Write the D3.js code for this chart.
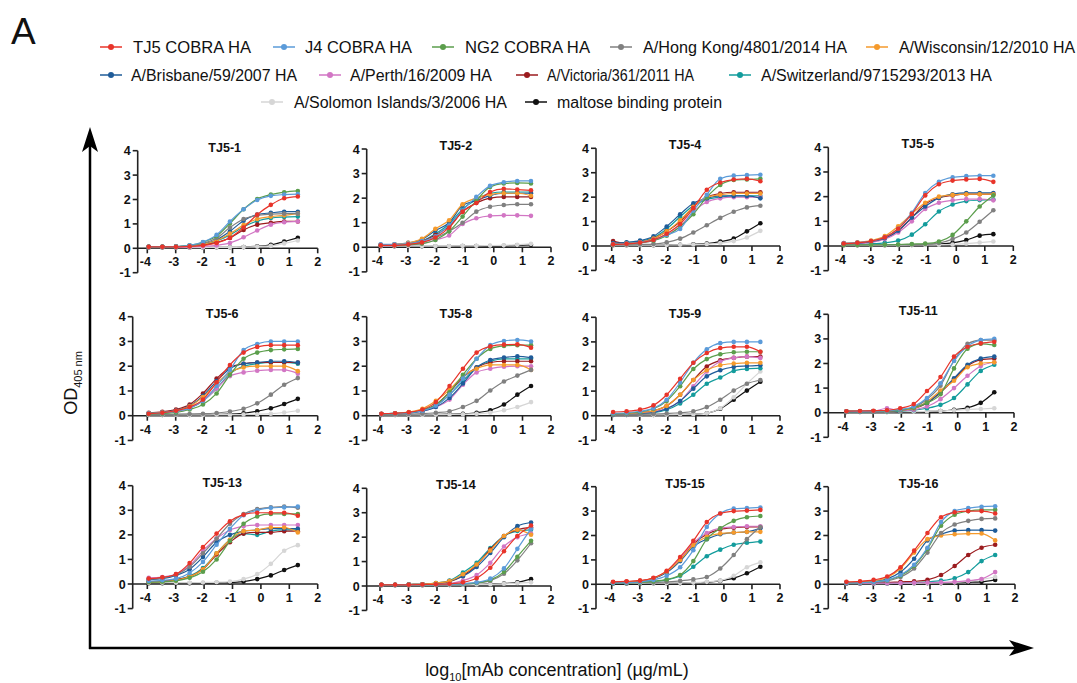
<!DOCTYPE html>
<html>
<head>
<meta charset="utf-8">
<script src="https://cdn.jsdelivr.net/npm/d3@7"></script>
<style>
  body { margin: 0; background: #fff; }
  svg { font-family: "Liberation Sans", Arial, sans-serif; }
</style>
</head>
<body>
<svg id="chart" width="1077" height="683"></svg>
<script>
// log10 of the mAb dilution series (µg/mL)
var X_LOG = [-3.95, -3.47, -2.99, -2.51, -2.04, -1.56, -1.09, -0.61, -0.13, 0.35, 0.82, 1.30];
var X_TICKS = [-4, -3, -2, -1, 0, 1, 2];
var Y_TICKS = [-1, 0, 1, 2, 3, 4];

var SERIES = ["TJ5 COBRA HA", "J4 COBRA HA", "NG2 COBRA HA", "A/Hong Kong/4801/2014 HA",
  "A/Wisconsin/12/2010 HA", "A/Brisbane/59/2007 HA", "A/Perth/16/2009 HA",
  "A/Victoria/361/2011 HA", "A/Switzerland/9715293/2013 HA",
  "A/Solomon Islands/3/2006 HA", "maltose binding protein"];

var PANEL_TITLES = ["TJ5-1", "TJ5-2", "TJ5-4", "TJ5-5", "TJ5-6", "TJ5-8",
  "TJ5-9", "TJ5-11", "TJ5-13", "TJ5-14", "TJ5-15", "TJ5-16"];

// OD405 per series (same order as SERIES), one row per antigen
var TJ5_1 = [
  [0.06,0.06,0.06,0.08,0.12,0.22,0.43,0.85,1.38,1.78,2.05,2.12],
  [0.06,0.06,0.07,0.12,0.26,0.55,1.10,1.60,1.98,2.15,2.20,2.22],
  [0.06,0.06,0.07,0.12,0.25,0.50,1.02,1.60,2.02,2.20,2.30,2.35],
  [0.06,0.06,0.07,0.10,0.20,0.42,0.85,1.20,1.35,1.40,1.42,1.42],
  [0.06,0.06,0.07,0.09,0.16,0.32,0.60,0.95,1.20,1.30,1.35,1.42],
  [0.06,0.06,0.07,0.09,0.17,0.35,0.70,1.13,1.38,1.45,1.50,1.50],
  [0.05,0.05,0.05,0.06,0.08,0.12,0.22,0.45,0.73,0.97,1.07,1.10],
  [0.06,0.06,0.06,0.08,0.13,0.24,0.42,0.75,0.97,1.05,1.10,1.10],
  [0.06,0.06,0.07,0.09,0.15,0.30,0.55,0.88,1.12,1.24,1.28,1.30],
  [0.03,0.03,0.03,0.03,0.03,0.04,0.04,0.05,0.07,0.10,0.20,0.32],
  [0.03,0.03,0.03,0.03,0.03,0.04,0.04,0.05,0.08,0.14,0.28,0.43]
];
var TJ5_2 = [
  [0.08,0.08,0.12,0.20,0.40,0.80,1.45,1.80,2.25,2.38,2.35,2.32],
  [0.12,0.12,0.15,0.25,0.45,0.90,1.50,2.05,2.50,2.65,2.70,2.70],
  [0.08,0.08,0.10,0.15,0.30,0.65,1.25,1.90,2.45,2.60,2.62,2.60],
  [0.08,0.09,0.12,0.20,0.38,0.65,1.00,1.45,1.65,1.72,1.75,1.75],
  [0.10,0.12,0.18,0.35,0.75,1.10,1.75,2.00,2.15,2.20,2.20,2.10],
  [0.10,0.12,0.18,0.32,0.68,1.00,1.70,1.90,2.10,2.20,2.20,2.20],
  [0.06,0.07,0.09,0.15,0.30,0.48,0.95,1.18,1.28,1.30,1.30,1.28],
  [0.08,0.10,0.14,0.25,0.50,0.85,1.45,1.80,2.00,2.05,2.05,2.05],
  [0.08,0.10,0.14,0.25,0.55,0.95,1.55,1.95,2.20,2.25,2.25,2.25],
  [0.05,0.05,0.05,0.05,0.05,0.05,0.06,0.06,0.07,0.08,0.10,0.14],
  [0.04,0.04,0.04,0.04,0.04,0.04,0.05,0.05,0.05,0.06,0.08,0.10]
];
var TJ5_4 = [
  [0.07,0.09,0.14,0.25,0.50,0.90,1.55,2.30,2.60,2.72,2.75,2.65],
  [0.08,0.10,0.15,0.25,0.45,0.70,1.45,2.10,2.75,2.88,2.90,2.92],
  [0.07,0.09,0.13,0.22,0.42,0.80,1.30,2.00,2.50,2.70,2.72,2.75],
  [0.05,0.05,0.06,0.08,0.15,0.30,0.55,0.85,1.15,1.40,1.58,1.65],
  [0.08,0.10,0.15,0.30,0.60,1.05,1.60,2.00,2.10,2.15,2.15,2.15],
  [0.12,0.15,0.22,0.40,0.80,1.30,1.75,1.95,2.05,2.05,2.05,1.95],
  [0.07,0.09,0.13,0.22,0.45,0.80,1.40,1.80,1.95,2.00,2.00,2.00],
  [0.20,0.10,0.15,0.30,0.60,1.00,1.60,2.00,2.15,2.20,2.20,2.20],
  [0.10,0.13,0.20,0.35,0.70,1.20,1.65,1.90,2.00,2.05,2.05,2.05],
  [0.03,0.03,0.03,0.03,0.04,0.05,0.06,0.08,0.12,0.20,0.35,0.62],
  [0.03,0.03,0.03,0.03,0.04,0.05,0.07,0.10,0.18,0.30,0.60,0.93]
];
var TJ5_5 = [
  [0.10,0.13,0.20,0.35,0.70,1.30,2.05,2.50,2.65,2.70,2.72,2.60],
  [0.12,0.14,0.20,0.35,0.70,1.35,2.15,2.60,2.78,2.83,2.85,2.85],
  [0.04,0.04,0.05,0.05,0.06,0.08,0.10,0.18,0.45,1.00,1.60,2.05],
  [0.04,0.04,0.04,0.05,0.05,0.06,0.08,0.12,0.28,0.55,0.98,1.45],
  [0.12,0.15,0.22,0.40,0.80,1.30,1.75,2.00,2.07,2.10,2.10,2.10],
  [0.10,0.12,0.18,0.32,0.62,1.15,1.60,1.95,2.10,2.15,2.15,2.15],
  [0.08,0.10,0.15,0.28,0.55,1.00,1.50,1.75,1.85,1.90,1.90,1.85],
  [0.10,0.12,0.18,0.32,0.62,1.15,1.70,1.95,2.05,2.10,2.10,2.10],
  [0.06,0.07,0.09,0.13,0.22,0.46,0.88,1.40,1.68,1.82,1.86,1.88],
  [0.03,0.03,0.03,0.03,0.03,0.04,0.04,0.05,0.06,0.10,0.14,0.18],
  [0.03,0.03,0.03,0.03,0.04,0.04,0.05,0.08,0.13,0.24,0.42,0.48]
];
var TJ5_6 = [
  [0.08,0.12,0.20,0.35,0.65,1.35,2.05,2.55,2.78,2.85,2.85,2.85],
  [0.10,0.12,0.18,0.30,0.60,1.20,1.85,2.65,2.90,3.00,3.00,3.00],
  [0.07,0.09,0.13,0.25,0.45,0.90,1.65,2.30,2.55,2.65,2.68,2.70],
  [0.05,0.05,0.06,0.07,0.08,0.11,0.17,0.28,0.50,0.85,1.25,1.52],
  [0.10,0.13,0.20,0.38,0.75,1.30,1.75,1.95,2.00,2.00,2.00,1.80],
  [0.10,0.14,0.22,0.40,0.80,1.40,1.90,2.10,2.15,2.20,2.20,2.15],
  [0.08,0.10,0.15,0.30,0.60,1.10,1.60,1.75,1.82,1.85,1.85,1.70],
  [0.12,0.16,0.25,0.45,0.90,1.50,1.95,2.10,2.15,2.15,2.15,2.15],
  [0.08,0.10,0.16,0.30,0.60,1.10,1.70,2.00,2.10,2.15,2.15,2.10],
  [0.03,0.03,0.03,0.03,0.03,0.04,0.04,0.05,0.06,0.08,0.13,0.20],
  [0.03,0.03,0.03,0.03,0.04,0.05,0.06,0.10,0.18,0.30,0.47,0.68]
];
var TJ5_8 = [
  [0.08,0.10,0.14,0.25,0.55,1.20,1.90,2.55,2.80,2.87,2.88,2.75],
  [0.08,0.09,0.12,0.20,0.40,0.85,1.50,2.30,2.85,3.02,3.06,3.00],
  [0.07,0.09,0.12,0.22,0.45,0.95,1.65,2.30,2.70,2.82,2.85,2.85],
  [0.05,0.05,0.06,0.08,0.12,0.18,0.35,0.60,1.02,1.38,1.62,1.85],
  [0.08,0.10,0.15,0.28,0.60,1.05,1.60,1.90,2.05,2.05,2.05,1.85],
  [0.06,0.08,0.11,0.18,0.35,0.72,1.30,1.95,2.25,2.35,2.40,2.35],
  [0.06,0.08,0.11,0.18,0.35,0.65,1.25,1.75,1.90,1.98,2.00,2.00],
  [0.07,0.09,0.13,0.22,0.45,0.95,1.55,1.95,2.15,2.20,2.20,2.20],
  [0.07,0.09,0.12,0.20,0.40,0.85,1.40,1.95,2.20,2.30,2.30,2.30],
  [0.03,0.03,0.03,0.03,0.04,0.05,0.06,0.08,0.12,0.22,0.35,0.55],
  [0.03,0.03,0.03,0.04,0.05,0.06,0.08,0.12,0.22,0.45,0.85,1.20]
];
var TJ5_9 = [
  [0.15,0.18,0.25,0.42,0.85,1.50,2.15,2.55,2.75,2.80,2.80,2.60],
  [0.10,0.12,0.18,0.30,0.65,1.35,2.15,2.70,2.95,3.00,3.00,3.00],
  [0.08,0.10,0.15,0.28,0.60,1.20,1.90,2.30,2.50,2.58,2.60,2.60],
  [0.05,0.05,0.06,0.07,0.09,0.12,0.18,0.35,0.65,1.02,1.30,1.45],
  [0.07,0.08,0.12,0.20,0.40,0.85,1.45,1.85,2.05,2.12,2.15,2.15],
  [0.05,0.06,0.08,0.13,0.28,0.60,1.10,1.60,1.85,1.98,2.02,2.05],
  [0.06,0.07,0.10,0.16,0.30,0.60,1.20,1.80,2.20,2.35,2.40,2.35],
  [0.06,0.08,0.12,0.20,0.40,0.85,1.45,2.00,2.25,2.35,2.40,2.40],
  [0.05,0.06,0.08,0.12,0.24,0.50,0.85,1.30,1.55,1.82,1.90,1.93],
  [0.03,0.03,0.03,0.03,0.04,0.05,0.06,0.10,0.30,0.75,1.30,1.80],
  [0.03,0.03,0.03,0.03,0.04,0.05,0.06,0.10,0.28,0.65,1.02,1.38]
];
var TJ5_11 = [
  [0.06,0.07,0.08,0.10,0.18,0.35,0.88,1.45,2.28,2.68,2.82,2.88],
  [0.05,0.05,0.06,0.08,0.13,0.25,0.60,1.20,2.10,2.70,2.95,3.00],
  [0.05,0.05,0.06,0.07,0.11,0.20,0.40,0.75,1.80,2.60,2.80,2.75],
  [0.05,0.05,0.06,0.08,0.12,0.22,0.55,1.10,2.12,2.80,2.95,2.95],
  [0.05,0.05,0.06,0.07,0.10,0.18,0.45,0.90,1.30,1.85,2.00,2.05],
  [0.05,0.05,0.06,0.07,0.10,0.18,0.40,0.85,1.40,1.95,2.20,2.28],
  [0.05,0.05,0.06,0.18,0.08,0.12,0.25,0.55,1.00,1.50,1.90,2.05],
  [0.05,0.05,0.06,0.07,0.10,0.17,0.38,0.82,1.35,1.90,2.15,2.20],
  [0.04,0.04,0.05,0.05,0.06,0.10,0.18,0.32,0.60,1.15,1.70,1.95],
  [0.03,0.03,0.03,0.03,0.04,0.04,0.05,0.07,0.10,0.13,0.15,0.18],
  [0.03,0.03,0.03,0.03,0.04,0.04,0.05,0.07,0.12,0.20,0.40,0.83]
];
var TJ5_13 = [
  [0.22,0.27,0.40,0.85,1.50,2.05,2.55,2.82,2.90,2.90,2.90,2.78],
  [0.12,0.15,0.22,0.45,0.90,1.60,2.25,2.80,3.00,3.10,3.12,3.15],
  [0.08,0.09,0.13,0.25,0.50,1.00,1.75,2.45,2.75,2.85,2.85,2.85],
  [0.20,0.25,0.38,0.70,1.25,1.85,2.45,2.85,3.05,3.12,3.15,3.10],
  [0.08,0.10,0.15,0.30,0.60,1.25,1.80,2.15,2.20,2.30,2.30,2.10],
  [0.18,0.22,0.35,0.60,1.10,1.70,2.00,2.15,2.20,2.25,2.25,2.25],
  [0.25,0.28,0.40,0.75,1.35,1.85,2.20,2.35,2.40,2.40,2.40,2.40],
  [0.10,0.12,0.17,0.30,0.60,1.20,1.70,2.05,2.10,2.10,2.15,2.15],
  [0.10,0.12,0.18,0.32,0.65,1.25,1.80,2.05,2.00,2.15,2.20,2.20],
  [0.05,0.05,0.05,0.05,0.06,0.07,0.10,0.20,0.40,0.82,1.35,1.58],
  [0.03,0.03,0.03,0.03,0.04,0.05,0.06,0.10,0.20,0.35,0.57,0.77]
];
var TJ5_14 = [
  [0.05,0.05,0.05,0.06,0.07,0.09,0.15,0.32,0.75,1.42,2.05,2.48],
  [0.04,0.04,0.05,0.05,0.06,0.07,0.10,0.15,0.30,0.72,1.52,2.35],
  [0.04,0.04,0.05,0.05,0.06,0.07,0.09,0.13,0.25,0.58,1.20,1.85],
  [0.04,0.04,0.05,0.05,0.06,0.07,0.08,0.12,0.22,0.50,1.05,1.75],
  [0.05,0.05,0.06,0.07,0.12,0.20,0.48,0.88,1.45,2.05,2.30,2.10],
  [0.05,0.05,0.06,0.07,0.10,0.20,0.40,0.78,1.35,2.00,2.45,2.60],
  [0.05,0.05,0.05,0.06,0.07,0.10,0.22,0.45,0.95,1.62,2.00,2.15],
  [0.05,0.05,0.06,0.07,0.10,0.18,0.42,0.85,1.50,2.05,2.30,2.40],
  [0.05,0.05,0.06,0.07,0.12,0.22,0.55,0.95,1.55,2.05,2.25,2.30],
  [0.03,0.03,0.03,0.03,0.04,0.04,0.05,0.06,0.07,0.09,0.12,0.15],
  [0.03,0.03,0.03,0.03,0.04,0.04,0.05,0.06,0.08,0.10,0.15,0.28]
];
var TJ5_15 = [
  [0.10,0.12,0.15,0.27,0.55,1.12,1.78,2.55,2.90,3.00,3.02,3.05],
  [0.06,0.07,0.10,0.18,0.35,0.70,1.40,2.35,2.90,3.10,3.12,3.15],
  [0.05,0.06,0.08,0.12,0.20,0.38,0.95,1.85,2.30,2.60,2.75,2.80],
  [0.05,0.05,0.06,0.07,0.10,0.14,0.20,0.30,0.65,1.20,1.85,2.35],
  [0.08,0.10,0.14,0.25,0.52,1.00,1.60,1.95,2.08,2.12,2.15,2.15],
  [0.07,0.09,0.13,0.23,0.48,0.95,1.55,1.85,2.05,2.12,2.15,2.30],
  [0.08,0.10,0.14,0.25,0.52,1.05,1.70,2.10,2.30,2.35,2.38,2.38],
  [0.08,0.10,0.14,0.25,0.50,1.00,1.65,2.05,2.25,2.32,2.35,2.35],
  [0.05,0.06,0.08,0.12,0.18,0.35,0.72,1.15,1.42,1.62,1.70,1.75],
  [0.04,0.04,0.04,0.05,0.05,0.06,0.07,0.10,0.15,0.35,0.70,0.90],
  [0.03,0.03,0.03,0.04,0.04,0.05,0.06,0.08,0.14,0.25,0.45,0.72]
];
var TJ5_16 = [
  [0.10,0.12,0.18,0.32,0.70,1.38,2.10,2.75,2.95,3.00,3.00,2.90],
  [0.06,0.07,0.10,0.18,0.38,0.80,1.50,2.55,3.00,3.12,3.18,3.20],
  [0.06,0.07,0.10,0.18,0.35,0.75,1.45,2.40,2.85,3.00,3.05,3.05],
  [0.05,0.06,0.08,0.14,0.30,0.65,1.30,2.10,2.45,2.60,2.68,2.70],
  [0.08,0.10,0.14,0.28,0.65,1.30,1.85,2.00,2.05,2.08,2.08,1.80],
  [0.07,0.08,0.12,0.22,0.50,1.05,1.80,2.05,2.20,2.22,2.22,2.20],
  [0.04,0.04,0.04,0.05,0.05,0.06,0.07,0.08,0.10,0.15,0.22,0.50],
  [0.04,0.05,0.06,0.07,0.10,0.12,0.18,0.38,0.75,1.20,1.50,1.62],
  [0.04,0.04,0.05,0.05,0.06,0.07,0.10,0.15,0.25,0.50,0.95,1.20],
  [0.03,0.03,0.03,0.03,0.04,0.04,0.05,0.06,0.08,0.12,0.20,0.30],
  [0.03,0.03,0.03,0.03,0.04,0.04,0.05,0.05,0.06,0.08,0.10,0.18]
];

var PANEL_DATA = [TJ5_1, TJ5_2, TJ5_4, TJ5_5, TJ5_6, TJ5_8,
  TJ5_9, TJ5_11, TJ5_13, TJ5_14, TJ5_15, TJ5_16];

var COLORS = ["#e8342a", "#5b9bd9", "#5b9e4c", "#808080", "#f59a2c", "#1f5c99",
  "#d276c4", "#9b1b1e", "#139c9c", "#d6d6d6", "#111111"];

// panel frames: y-axis x, pixel of x=-4, pixel of x=2, pixel of y=4, pixel of y=0
var PANEL_BOX = [
  [137.7, 147.3, 317.7, 150.7, 248.3], [366.7, 379.3, 551, 149, 247.3],
  [596, 611.7, 780, 148.3, 246], [828.3, 842.3, 1013.3, 147.3, 246],
  [132.7, 147.3, 317.7, 316.7, 415.7], [366.7, 380, 551, 316.7, 415.7],
  [596, 611.7, 780, 317.3, 415.7], [828.3, 845, 1014, 314.3, 412.7],
  [132.7, 147.3, 317.7, 485.7, 584], [366.7, 380, 551, 488.3, 586],
  [596, 611.7, 780, 486.7, 584.3], [828.3, 845, 1015, 486.7, 584.3]
];

// legend slots: row, dot x, text start, text end
var LEGEND_POS = [
  [0, 111, 133, 251], [0, 284, 305, 412], [0, 443, 465, 590], [0, 621, 643, 847],
  [0, 877, 899, 1075], [1, 111, 131, 297], [1, 330, 350, 492], [1, 527, 547, 694],
  [1, 740, 761, 992], [2, 272, 294, 507], [2, 536, 557, 722]
];
var LEGEND_ROW_Y = [47, 75, 102];

var svg = d3.select("#chart");

// panel letter
svg.append("text")
  .attr("x", 11).attr("y", 44)
  .attr("font-size", 37)
  .attr("fill", "#111")
  .text("A");

// legend
SERIES.forEach(function(name, i) {
  var p = LEGEND_POS[i];
  var y = LEGEND_ROW_Y[p[0]];
  var g = svg.append("g");
  g.append("line")
    .attr("x1", p[1] - 11).attr("x2", p[1] + 11)
    .attr("y1", y).attr("y2", y)
    .attr("stroke", COLORS[i]).attr("stroke-width", 1.5);
  g.append("circle")
    .attr("cx", p[1]).attr("cy", y).attr("r", 3)
    .attr("fill", COLORS[i]);
  g.append("text")
    .attr("x", p[2]).attr("y", y + 5.5)
    .attr("font-size", 16)
    .attr("fill", "#111")
    .attr("textLength", p[3] - p[2])
    .attr("lengthAdjust", "spacingAndGlyphs")
    .text(name);
});

// big outer axes with arrows
svg.append("line").attr("x1", 90).attr("x2", 90).attr("y1", 649).attr("y2", 140)
  .attr("stroke", "#000").attr("stroke-width", 2.5);
svg.append("line").attr("x1", 89).attr("x2", 1022).attr("y1", 648).attr("y2", 648)
  .attr("stroke", "#000").attr("stroke-width", 2.5);
svg.append("path").attr("d", "M90,127 L98,152 L90,146 L82,152 Z").attr("fill", "#000");
svg.append("path").attr("d", "M1034,648 L1009,640 L1015,648 L1009,656 Z").attr("fill", "#000");

var yLab = svg.append("text")
  .attr("transform", "translate(77,383) rotate(-90)")
  .attr("text-anchor", "middle")
  .attr("font-size", 18)
  .attr("fill", "#111");
yLab.append("tspan").text("OD");
yLab.append("tspan").attr("font-size", 11).attr("dy", 5).text("405 nm");

var xLab = svg.append("text")
  .attr("x", 557).attr("y", 676)
  .attr("text-anchor", "middle")
  .attr("font-size", 18)
  .attr("fill", "#111");
xLab.append("tspan").text("log");
xLab.append("tspan").attr("font-size", 11).attr("dy", 5).text("10");
xLab.append("tspan").attr("dy", -5).text("[mAb concentration] (µg/mL)");

// small multiples
PANEL_DATA.forEach(function(rows, k) {
  var b = PANEL_BOX[k];
  var x = d3.scaleLinear().domain([-4, 2]).range([b[1], b[2]]);
  var y = d3.scaleLinear().domain([0, 4]).range([b[4], b[3]]);
  var g = svg.append("g");

  // y axis
  g.append("line")
    .attr("x1", b[0]).attr("x2", b[0])
    .attr("y1", y(-1)).attr("y2", y(4))
    .attr("stroke", "#222").attr("stroke-width", 1.6);
  Y_TICKS.forEach(function(t) {
    g.append("line")
      .attr("x1", b[0] - 5).attr("x2", b[0])
      .attr("y1", y(t)).attr("y2", y(t))
      .attr("stroke", "#222").attr("stroke-width", 1.6);
    g.append("text")
      .attr("x", b[0] - 7).attr("y", y(t) + 4.5)
      .attr("text-anchor", "end")
      .attr("font-size", 12.5).attr("font-weight", "bold")
      .attr("fill", "#111")
      .text(t);
  });

  // x axis along y = 0
  g.append("line")
    .attr("x1", b[0]).attr("x2", x(2))
    .attr("y1", y(0)).attr("y2", y(0))
    .attr("stroke", "#222").attr("stroke-width", 1.6);
  X_TICKS.forEach(function(t) {
    g.append("line")
      .attr("x1", x(t)).attr("x2", x(t))
      .attr("y1", y(0)).attr("y2", y(0) + 5)
      .attr("stroke", "#222").attr("stroke-width", 1.6);
    g.append("text")
      .attr("x", x(t) - (t < 0 ? 2 : 0)).attr("y", y(0) + 18)
      .attr("text-anchor", "middle")
      .attr("font-size", 12.5).attr("font-weight", "bold")
      .attr("fill", "#111")
      .text(t);
  });

  g.append("text")
    .attr("x", (b[0] + b[2]) / 2 - 3).attr("y", b[3] + 1)
    .attr("text-anchor", "middle")
    .attr("font-size", 12.5).attr("font-weight", "bold")
    .attr("fill", "#111")
    .text(PANEL_TITLES[k]);

  var line = d3.line()
    .x(function(d, i) { return x(X_LOG[i]); })
    .y(function(d) { return y(d); })
    .curve(d3.curveMonotoneX);

  // draw the last series first so TJ5 COBRA HA ends on top
  for (var s = rows.length - 1; s >= 0; s--) {
    var vals = rows[s];
    g.append("path")
      .attr("d", line(vals))
      .attr("fill", "none")
      .attr("stroke", COLORS[s])
      .attr("stroke-width", 1.2);
    g.selectAll(null)
      .data(vals)
      .enter().append("circle")
      .attr("cx", function(d, i) { return x(X_LOG[i]); })
      .attr("cy", function(d) { return y(d); })
      .attr("r", 2.3)
      .attr("fill", COLORS[s]);
  }
});
</script>
</body>
</html>
